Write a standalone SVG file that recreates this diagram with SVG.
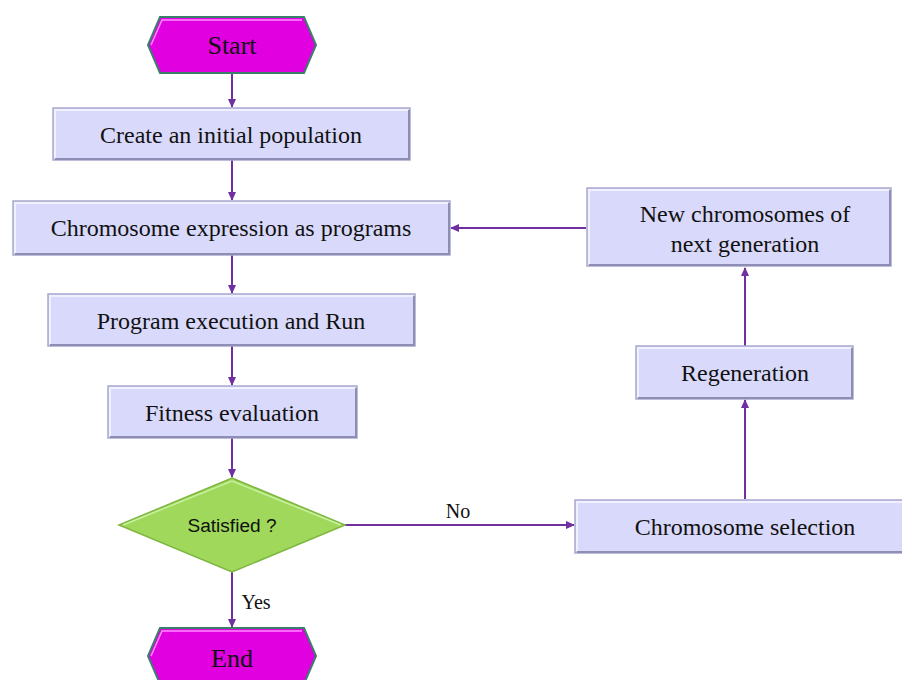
<svg xmlns="http://www.w3.org/2000/svg" width="902" height="680" viewBox="0 0 902 680">
<defs>
<style>
.box{fill:#d9d9fb;stroke:#a9a9d0;stroke-width:1.5}
.hl{fill:none;stroke:#f0f0ff;stroke-width:2}
.sh{fill:none;stroke:#8e8eb5;stroke-width:2}
.hex{fill:#e000e0;stroke:#3a7f6a;stroke-width:2}
.dia{fill:#9fd85a;stroke:#7fb640;stroke-width:1.5}
.t{font-family:"Liberation Serif","Times New Roman",serif;font-size:24px;fill:#111;text-anchor:middle}
.big{font-size:26px}
.lab{font-size:20px}
.s{font-family:"Liberation Sans Narrow","Liberation Sans",Arial,sans-serif;font-size:18px;fill:#111;text-anchor:middle}
.c{fill:none;stroke:#7030a0;stroke-width:2}
</style>
<marker id="ah" markerWidth="10" markerHeight="10" refX="8" refY="5" orient="auto" markerUnits="userSpaceOnUse">
<path d="M0,1 L9,5 L0,9 Z" fill="#7030a0"/>
</marker>
</defs>
<rect width="902" height="680" fill="#ffffff"/>
<g id="connectors">
<line class="c" x1="232" y1="73" x2="232" y2="107" marker-end="url(#ah)"/>
<line class="c" x1="232" y1="160" x2="232" y2="200" marker-end="url(#ah)"/>
<line class="c" x1="232" y1="255" x2="232" y2="293" marker-end="url(#ah)"/>
<line class="c" x1="232" y1="346" x2="232" y2="385" marker-end="url(#ah)"/>
<line class="c" x1="232" y1="438" x2="232" y2="477" marker-end="url(#ah)"/>
<line class="c" x1="232" y1="572" x2="232" y2="627" marker-end="url(#ah)"/>
<line class="c" x1="345" y1="525" x2="574" y2="525" marker-end="url(#ah)"/>
<line class="c" x1="745" y1="499" x2="745" y2="400" marker-end="url(#ah)"/>
<line class="c" x1="745" y1="346" x2="745" y2="268" marker-end="url(#ah)"/>
<line class="c" x1="586" y1="228" x2="451" y2="228" marker-end="url(#ah)"/>
<text class="t lab" x="458" y="518">No</text>
<text class="t lab" x="256" y="609">Yes</text>
</g>
<g id="start">
<polygon class="hex" points="160,17 304,17 316,45 304,73 160,73 148,45"/>
<polyline fill="none" stroke="#ff8cff" stroke-width="1.5" points="151,45 162,20 302,20"/>
<text class="t big" x="232" y="54">Start</text>
</g>
<g id="n1">
<rect class="box" x="53" y="108" width="357" height="52"/>
<polyline class="hl" points="55,158 55,110 408,110"/>
<polyline class="sh" points="55,159 409,159 409,110"/>
<text class="t" x="231" y="143">Create an initial population</text>
</g>
<g id="n2">
<rect class="box" x="13" y="201" width="437" height="54"/>
<polyline class="hl" points="15,253 15,203 448,203"/>
<polyline class="sh" points="15,254 449,254 449,203"/>
<text class="t" x="231" y="236">Chromosome expression as programs</text>
</g>
<g id="n3">
<rect class="box" x="48" y="294" width="367" height="52"/>
<polyline class="hl" points="50,344 50,296 413,296"/>
<polyline class="sh" points="50,345 414,345 414,296"/>
<text class="t" x="231" y="329">Program execution and Run</text>
</g>
<g id="n4">
<rect class="box" x="108" y="386" width="249" height="52"/>
<polyline class="hl" points="110,436 110,388 355,388"/>
<polyline class="sh" points="110,437 356,437 356,388"/>
<text class="t" x="232" y="421">Fitness evaluation</text>
</g>
<g id="decision">
<polygon class="dia" points="232,478 345,525 232,572 119,525"/>
<polyline fill="none" stroke="#c8f0a0" stroke-width="1.5" points="123,525 232,481 341,525"/>
<text class="s" x="232" y="532" textLength="89" lengthAdjust="spacingAndGlyphs">Satisfied ?</text>
</g>
<g id="end">
<polygon class="hex" points="160,628 304,628 316,656 304,684 160,684 148,656"/>
<polyline fill="none" stroke="#ff8cff" stroke-width="1.5" points="151,656 162,631 302,631"/>
<text class="t big" x="232" y="667">End</text>
</g>
<g id="selection">
<rect class="box" x="575" y="500" width="335" height="53"/>
<polyline class="hl" points="577,551 577,502 908,502"/>
<polyline class="sh" points="577,552 908,552"/>
<text class="t" x="745" y="535">Chromosome selection</text>
</g>
<g id="regeneration">
<rect class="box" x="636" y="346" width="217" height="53"/>
<polyline class="hl" points="638,397 638,348 851,348"/>
<polyline class="sh" points="638,398 852,398 852,348"/>
<text class="t" x="745" y="381">Regeneration</text>
</g>
<g id="newgen">
<rect class="box" x="587" y="188" width="304" height="78"/>
<polyline class="hl" points="589,264 589,190 889,190"/>
<polyline class="sh" points="589,265 890,265 890,190"/>
<text class="t" x="745" y="222">New chromosomes of</text>
<text class="t" x="745" y="252">next generation</text>
</g>
</svg>
